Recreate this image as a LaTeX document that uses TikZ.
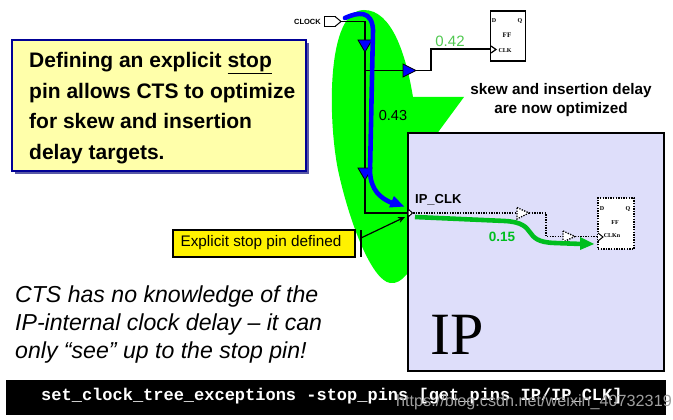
\documentclass[tikz,border=0pt]{standalone}
\usepackage{fontspec}
\setmainfont{Liberation Sans}
\newfontfamily\timesf{Liberation Serif}
\newfontfamily\courf{Liberation Mono}
\usetikzlibrary{arrows.meta,shapes.geometric}
\definecolor{blgreen}{RGB}{0,255,0}
\definecolor{wiregreen}{RGB}{0,190,30}
\definecolor{lightlab}{RGB}{80,200,80}
\definecolor{ipfill}{RGB}{222,222,250}
\definecolor{noteyel}{RGB}{255,255,170}
\definecolor{navy}{RGB}{0,0,150}
\tikzset{
  wire/.style={draw=black,line width=1.2pt},
  dotwire/.style={draw=black,line width=1.3pt,dash pattern=on 1.3pt off 1.3pt},
  bufb/.style={draw=black,fill=blue,line width=.8pt},
  bufw/.style={dotwire,fill=white},
  ffbox/.style={draw=black,fill=white,line width=1.2pt,minimum width=35pt,minimum height=50pt,inner sep=0pt},
  fftext/.style={font=\timesf\bfseries\fontsize{6}{7}\selectfont,inner sep=0pt},
  bigpath/.style={line width=4.6pt,line cap=round}
}
\begin{document}
\begin{tikzpicture}[x=1pt,y=-1pt]
\useasboundingbox (0,0) rectangle (673,420);
% green callout
\fill[blgreen] (364,10) .. controls (392,10) and (406,55) .. (413,97) -- (464,97) -- (436,135) -- (436,260)
  -- (408,273) .. controls (401,281) and (396,284) .. (390,283) .. controls (372,280) and (350,225) .. (338,170) .. controls (328,120) and (326,10) .. (364,10) -- cycle;
% yellow note
\fill[gray!70!blue] (15,43) rectangle (309,174);
\node[draw=navy,fill=noteyel,line width=2pt,minimum width=294pt,minimum height=131pt,inner sep=0pt] (note) at (159,105.5) {};
\node[font=\bfseries\fontsize{21}{30.7}\selectfont,align=left,anchor=north west,inner sep=0pt] (notetext) at (29,52)
 {Defining an explicit \underline{stop}\\pin allows CTS to optimize\\for skew and insertion\\delay targets.};
% IP box
\node[draw=black,fill=ipfill,line width=1.4pt,minimum width=256pt,minimum height=238pt,inner sep=0pt] (ip) at (536,252) {};
\node[font=\timesf\fontsize{60}{60}\selectfont,inner sep=0pt] (iplabel) at (457,335) {IP};
% clock port
\node[draw=black,fill=white,line width=1pt,shape=rectangle,minimum width=11pt,minimum height=10pt,inner sep=0pt] (clkbox) at (330,21.5) {};
\fill[white] (335,16.5) -- (341,21.5) -- (335,26.5) -- cycle;
\draw[wire,line width=1pt] (335,16.5) -- (341,21.5) -- (335,26.5);
\coordinate (clkout) at (341,21.5);
\node[font=\bfseries\fontsize{7.5}{8}\selectfont,anchor=east,inner sep=0pt] (clklabel) at (321,22) {CLOCK};
% wires
\coordinate (trunk) at (365,21.5);
\coordinate (br1) at (365,70.5);
\coordinate (pin) at (408,213);
\draw[wire] (clkout) -- (trunk) -- (365,213) -- (pin);
\draw[wire] (br1) -- (431,70.5) -- (431,49) -- (491,49);
% FF top
\node[ffbox] (ff1) at (508,36) {};
\draw[wire,fill=white] (491,46) -- (496,49.5) -- (491,53);
\node[fftext] (ffd) at (494,21) {D};
\node[fftext] (ffq) at (520,21) {Q};
\node[fftext,font=\timesf\bfseries\fontsize{7}{8}\selectfont] (ffn) at (507,35) {FF};
\node[fftext] (ffc) at (505,51) {CLK};
\node[text=lightlab,font=\fontsize{15}{17}\selectfont,inner sep=0pt] (l042) at (450,41) {0.42};
% buffers
\draw[bufb] (358,40) -- (372,40) -- (365,52) -- cycle;
\draw[bufb] (403,64) -- (416,70.5) -- (403,77) -- cycle;
\draw[bufb] (358,168) -- (372,168) -- (365,180) -- cycle;
% blue path
\draw[blue,bigpath] (345,18) .. controls (358,12) and (372,10) .. (373,30) -- (370,172) .. controls (371,190) and (380,198) .. (392,203);
\fill[blue] (394,196) -- (404,206.5) -- (389,207.5) -- cycle;
\node[font=\fontsize{14.5}{16}\selectfont,inner sep=0pt] (l043) at (393,116) {0.43};
\node[font=\bfseries\fontsize{15.3}{19}\selectfont,align=center,inner sep=0pt] (opt) at (561,100.5) {skew and insertion delay\\are now optimized};
% IP contents
\node[font=\bfseries\fontsize{13}{15}\selectfont,anchor=west,inner sep=0pt] (ipclk) at (415,200) {IP\_CLK};
\draw[dotwire] (pin) -- (517,213);
\draw[dotwire] (529,213) -- (546,213) -- (546,236.5) -- (563,236.5);
\draw[dotwire] (575,236.5) -- (598,236.5);
\draw[bufw] (517,207.5) -- (529,213) -- (517,219) -- cycle;
\draw[bufw] (563,231) -- (575,236.5) -- (563,242) -- cycle;
\node[draw=black,fill=white,line width=1.6pt,dash pattern=on 1.4pt off 1.2pt,minimum width=36pt,minimum height=51pt,inner sep=0pt] (ff2) at (616,223.5) {};
\draw[wire,line width=1pt,fill=white] (598,233) -- (603,237) -- (598,241);
\node[fftext] (ff2d) at (602,209) {D};
\node[fftext] (ff2q) at (628,209) {Q};
\node[fftext] (ff2n) at (615,223) {FF};
\node[fftext] (ff2c) at (612,236) {CLKn};
\draw[fill=white,draw=black,line width=1pt] (408,209) -- (412.5,213) -- (408,217) -- cycle;
% green path
\draw[wiregreen,line width=4.6pt] (415,217) -- (505,221) .. controls (540,223) and (520,242) .. (555,243) -- (582,244);
\fill[wiregreen] (580,237) -- (594,244) -- (580,250) -- cycle;
\node[text=wiregreen,font=\bfseries\fontsize{13.5}{15}\selectfont,inner sep=0pt] (l015) at (502,237) {0.15};
% label yellow
\node[draw=black,fill=yellow,line width=2pt,minimum width=182pt,minimum height=27pt,inner sep=0pt] (stop) at (264,243) {};
\node[font=\fontsize{15.3}{17}\selectfont,inner sep=0pt] (stoptext) at (261,243) {Explicit stop pin defined};
\coordinate (stoptip) at (405,217);
\draw[wire,-{Stealth[length=7pt,width=6pt]}] (361,238) -- (stoptip);
\draw[wire,line width=2pt] (361,230) -- (361,257);
% italic text
\node[font=\itshape\fontsize{23.1}{28}\selectfont,align=left,anchor=north west,inner sep=0pt] (cts) at (15,286)
 {CTS has no knowledge of the\\IP-internal clock delay -- it can\\only “see” up to the stop pin!};
% command bar
\node[fill=black,text=white,minimum width=660pt,minimum height=35pt,inner sep=0pt] (bar) at (336,397) {};
\node[text=white,font=\courf\bfseries\fontsize{17}{18}\selectfont,anchor=west,inner sep=0pt] (cmd) at (41,396) {set\_clock\_tree\_exceptions -stop\_pins [get\_pins IP/IP\_CLK]};
\node[text=gray!75,font=\fontsize{16.2}{18}\selectfont,anchor=east,inner sep=0pt] (wm) at (672,402) {https://blog.csdn.net/weixin\_40732319};
\end{tikzpicture}
\end{document}
